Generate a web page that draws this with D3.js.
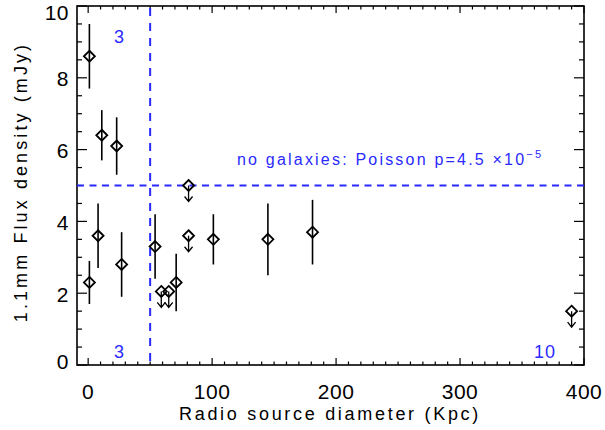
<!DOCTYPE html>
<html><head><meta charset="utf-8">
<script src="https://cdn.jsdelivr.net/npm/d3@7"></script>
<style>body{margin:0;background:#fff}text{font-family:"Liberation Sans",Arial,sans-serif}</style>
</head><body><svg id="c" width="605" height="430"></svg>
<script>
// detections: diameter (kpc), flux (mJy), error
const detX = [1, 8, 11, 23, 27, 54, 71, 101, 145, 181];
const detY = [8.6, 3.6, 6.4, 6.1, 2.8, 3.3, 2.3, 3.5, 3.5, 3.7];
const detE = [0.9, 0.9, 0.7, 0.8, 0.9, 0.9, 0.8, 0.7, 1.0, 0.9];
const det2X = [1];
const det2Y = [2.3];
const det2E = [0.6];
// upper limits
const limX = [81, 81, 59, 65, 390];
const limY = [5.0, 3.6, 2.05, 2.05, 1.5];
const xTicks = [0, 100, 200, 300, 400];
const yTicks = [0, 2, 4, 6, 8, 10];
const cut = 50, fluxCut = 5;

const W=605,H=430, m={l:77,r:21,t:6,b:65};
const svg=d3.select("#c");
const x=d3.scaleLinear().domain([-9,400]).range([m.l,W-m.r]);
const y=d3.scaleLinear().domain([0,10]).range([H-m.b,m.t]);
const blue="#2a2aff";

const g=svg.append("g");
g.append("rect").attr("x",m.l).attr("y",m.t).attr("width",W-m.l-m.r).attr("height",H-m.t-m.b)
 .attr("fill","none").attr("stroke","#000").attr("stroke-width",1.6);

const xMinor=d3.range(0,401,10), yMinor=d3.range(0,10.01,0.5);
xMinor.forEach(v=>{
  const maj=xTicks.includes(v), L=maj?7:3.5;
  g.append("line").attr("x1",x(v)).attr("x2",x(v)).attr("y1",y(0)).attr("y2",y(0)-L).attr("stroke","#000").attr("stroke-width",1.2);
  g.append("line").attr("x1",x(v)).attr("x2",x(v)).attr("y1",y(10)).attr("y2",y(10)+L).attr("stroke","#000").attr("stroke-width",1.2);
});
yMinor.forEach(v=>{
  const maj=yTicks.includes(v), L=maj?10:5;
  g.append("line").attr("x1",x(-9)).attr("x2",x(-9)+L).attr("y1",y(v)).attr("y2",y(v)).attr("stroke","#000").attr("stroke-width",1.2);
  g.append("line").attr("x1",x(400)).attr("x2",x(400)-L).attr("y1",y(v)).attr("y2",y(v)).attr("stroke","#000").attr("stroke-width",1.2);
});
xTicks.forEach(v=>g.append("text").attr("x",x(v)).attr("y",399).attr("text-anchor","middle").attr("font-size",21).attr("letter-spacing",0.5).text(v));
yTicks.forEach(v=>g.append("text").attr("x",69).attr("y",Math.min(Math.max(y(v)+8.5,20),368.5)).attr("text-anchor","end").attr("font-size",21).attr("letter-spacing",0.5).text(v));

g.append("text").attr("x",330).attr("y",420).attr("text-anchor","middle").attr("font-size",18).attr("letter-spacing",2.7).text("Radio source diameter (Kpc)");
g.append("text").attr("transform","translate(27,182) rotate(-90)").attr("text-anchor","middle").attr("font-size",18).attr("letter-spacing",3.1).text("1.1mm Flux density (mJy)");

g.append("line").attr("x1",x(cut)).attr("x2",x(cut)).attr("y1",m.t+2).attr("y2",y(0)).attr("stroke",blue).attr("stroke-width",2).attr("stroke-dasharray","8,7");
g.append("line").attr("x1",m.l).attr("x2",x(400)).attr("y1",y(fluxCut)).attr("y2",y(fluxCut)).attr("stroke",blue).attr("stroke-width",2).attr("stroke-dasharray","7,5.5");

g.append("text").attr("x",119).attr("y",43).attr("text-anchor","middle").attr("font-size",18).attr("fill",blue).text("3");
g.append("text").attr("x",119).attr("y",358).attr("text-anchor","middle").attr("font-size",18).attr("fill",blue).text("3");
g.append("text").attr("x",545).attr("y",358).attr("text-anchor","middle").attr("font-size",18).attr("fill",blue).attr("letter-spacing",1).text("10");
const t=g.append("text").attr("x",237).attr("y",165).attr("font-size",16).attr("letter-spacing",2.2).attr("fill",blue);
t.append("tspan").text("no galaxies: Poisson p=4.5 \u00d710");
t.append("tspan").attr("dy",-7).attr("font-size",11).text("\u22125");

const det=detX.map((v,i)=>({x:v,y:detY[i],e:detE[i]})).concat(det2X.map((v,i)=>({x:v,y:det2Y[i],e:det2E[i]})));
const dsz=5.5;
const diamond=(cx,cy)=>`M${cx},${cy-dsz}L${cx+dsz},${cy}L${cx},${cy+dsz}L${cx-dsz},${cy}Z`;
det.forEach(d=>{
  g.append("line").attr("x1",x(d.x)).attr("x2",x(d.x)).attr("y1",y(d.y+d.e)).attr("y2",y(d.y-d.e)).attr("stroke","#000").attr("stroke-width",1.6);
  g.append("path").attr("d",diamond(x(d.x),y(d.y))).attr("fill","none").attr("stroke","#000").attr("stroke-width",1.8);
});
limX.forEach((v,i)=>{
  const cx=x(v), cy=y(limY[i]);
  g.append("path").attr("d",diamond(cx,cy)).attr("fill","none").attr("stroke","#000").attr("stroke-width",1.8);
  g.append("path").attr("d",`M${cx},${cy}L${cx},${cy+16}M${cx-4},${cy+11}L${cx},${cy+16}L${cx+4},${cy+11}`).attr("fill","none").attr("stroke","#000").attr("stroke-width",1.3);
});
</script></body></html>
